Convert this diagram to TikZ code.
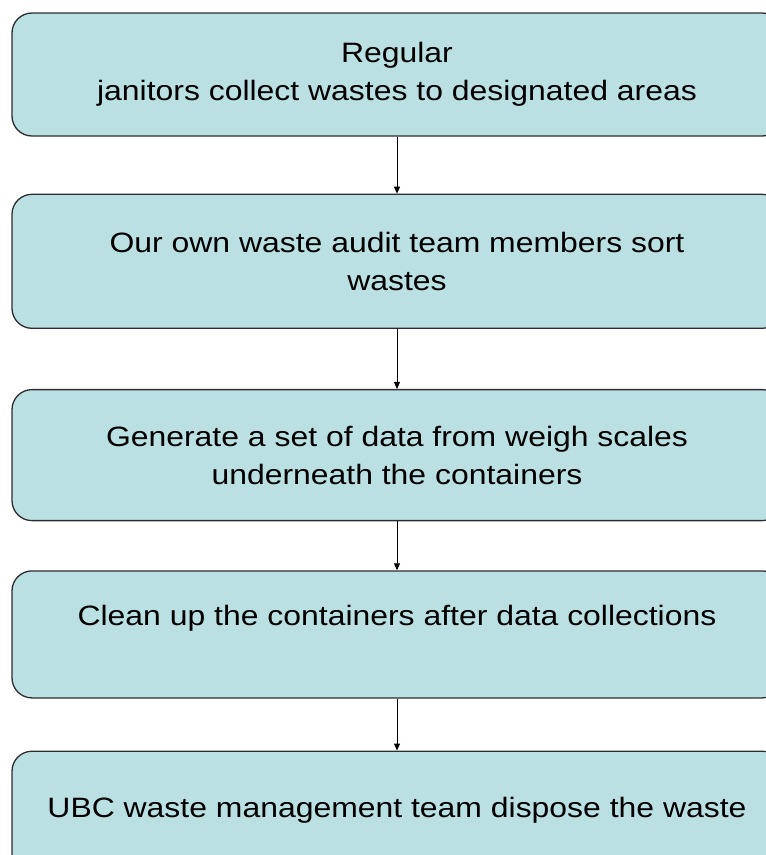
\documentclass[tikz,border=0pt]{standalone}
\usepackage{fontspec}
\setmainfont{Liberation Sans}[FakeStretch=1.14]
\usetikzlibrary{arrows.meta, positioning}

\definecolor{stagefill}{RGB}{187,224,228}
\definecolor{stageline}{RGB}{45,45,45}

\begin{document}
\begin{tikzpicture}[
    stage/.style={draw=stageline, line width=1.3pt, fill=stagefill, rounded corners=20pt,
        minimum width=770pt, align=center, inner sep=0pt, font=\fontsize{28}{38}\selectfont},
    flow/.style={-{Triangle[length=7pt, width=6pt]}, line width=0.9pt, black}
]
\useasboundingbox (0pt,0pt) rectangle (766pt,-855pt);
\clip (0pt,0pt) rectangle (766pt,-855pt);

% Process stages, top to bottom
\node[stage, minimum height=123pt] (collect) at (397pt,-74.5pt)
    {Regular\\janitors collect wastes to designated areas};
\node[stage, minimum height=134pt, below=57pt of collect] (sort)
    {Our own waste audit team members sort\\wastes};
\node[stage, minimum height=131pt, below=60pt of sort] (weigh)
    {Generate a set of data from weigh scales\\underneath the containers};
\node[stage, minimum height=127pt, below=49pt of weigh] (cleanup)
    {Clean up the containers after data collections\\\mbox{}};
\node[stage, minimum height=150pt, below=52pt of cleanup] (dispose)
    {UBC waste management team dispose the waste\\\mbox{}};

% Arrows between stages
\draw[flow] (collect) -- (sort);
\draw[flow] (sort) -- (weigh);
\draw[flow] (weigh) -- (cleanup);
\draw[flow] (cleanup) -- (dispose);

\end{tikzpicture}
\end{document}
